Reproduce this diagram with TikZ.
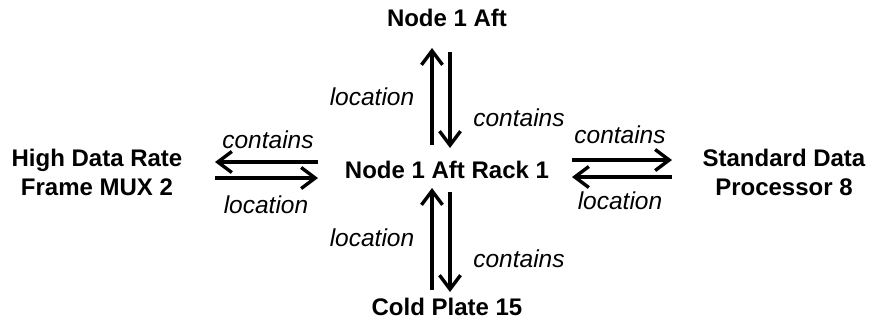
\documentclass[tikz,border=0pt]{standalone}
\usepackage{fontspec}
\setmainfont{Liberation Sans}
\usetikzlibrary{arrows.meta,calc}
\begin{document}
\begin{tikzpicture}[x=1pt,y=-1pt,
  term/.style={font=\fontsize{24}{29}\selectfont\bfseries, inner sep=0pt, align=center},
  rel/.style={font=\fontsize{24.5}{28}\selectfont\itshape, inner sep=0pt},
  link/.style={line width=3.4pt, -{Straight Barb[length=14pt,width=21pt,line width=3.4pt]}}]
  \useasboundingbox (0,0) rectangle (871,322);
  % concepts
  \node[term] (aft)  at (447,18)  {Node 1 Aft};
  \node[term] (rack) at (447,170) {Node 1 Aft Rack 1};
  \node[term] (hdr)  at (97,172)  {High Data Rate\\Frame MUX 2};
  \node[term] (sdp)  at (784,172) {Standard Data\\Processor 8};
  \node[term] (cold) at (447,307) {Cold Plate 15};
  % vertical links, upper
  \draw[link] ($(rack.center)+(-15,-25)$) -- ($(aft.center)+(-15,30)$);
  \draw[link] ($(aft.center)+(3,34)$) -- ($(rack.center)+(3,-22)$);
  % vertical links, lower
  \draw[link] ($(cold.center)+(-15,-17)$) -- ($(rack.center)+(-15,18)$);
  \draw[link] ($(rack.center)+(3,22)$) -- ($(cold.center)+(3,-15)$);
  % horizontal links, left
  \draw[link] ($(rack.center)+(-129,-8)$) -- ($(hdr.center)+(118,-10)$);
  \draw[link] ($(hdr.center)+(118,6)$) -- ($(rack.center)+(-129,8)$);
  % horizontal links, right
  \draw[link] ($(rack.center)+(125,-10)$) -- ($(sdp.center)+(-112,-12)$);
  \draw[link] ($(sdp.center)+(-112,5)$) -- ($(rack.center)+(125,7)$);
  % relation labels
  \node[rel] (l1) at (372,97)  {location};
  \node[rel] (c1) at (519,118) {contains};
  \node[rel] (l2) at (372,238) {location};
  \node[rel] (c2) at (519,259) {contains};
  \node[rel] (c3) at (268,140) {contains};
  \node[rel] (l3) at (266,205) {location};
  \node[rel] (c4) at (620,135) {contains};
  \node[rel] (l4) at (620,201) {location};
\end{tikzpicture}
\end{document}
